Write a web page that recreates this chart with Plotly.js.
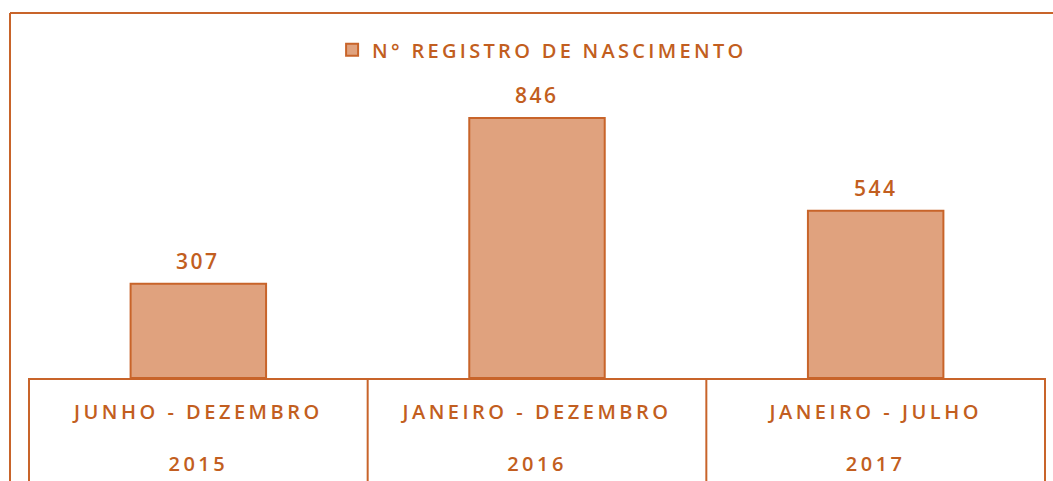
<!DOCTYPE html>
<html>
<head>
<meta charset="utf-8">
<script src="https://cdn.plot.ly/plotly-3.0.1.min.js"></script>
<style>
html,body{margin:0;padding:0;background:#fff;}
#chart{width:1053px;height:481px;}
.xtick text{letter-spacing:3.5px;}
.legendtext{letter-spacing:3.3px;}
.annotation-text{letter-spacing:2.5px;}
</style>
</head>
<body>
<div id="chart"></div>
<script>
const periods = ["JUNHO - DEZEMBRO", "JANEIRO - DEZEMBRO", "JANEIRO - JULHO"];
const years = ["2015", "2016", "2017"];
const registros = [307, 846, 544];
const seriesName = "N° REGISTRO DE NASCIMENTO";

const lineColor = "#C8642A";
const textColor = "#C25E20";
const fontFam = "Open Sans";
const categories = periods.map((p, i) => p + "|" + years[i]);
const tickLabels = periods.map((p, i) => p + "<br><br>" + years[i]);

const trace = {
  type: "bar",
  x: categories,
  y: registros,
  name: seriesName,
  width: 0.4,
  marker: {color: "#E0A27E", line: {color: lineColor, width: 2}},
  hoverinfo: "skip"
};

const annotations = categories.map((c, i) => ({
  x: c, y: registros[i], xref: "x", yref: "y",
  text: String(registros[i]), showarrow: false,
  yanchor: "middle", yshift: 23,
  font: {family: fontFam, size: 21, weight: 600, color: textColor}
}));

const shapes = [];
[-0.5, 0.5, 1.5, 2.5].forEach(b => shapes.push({
  type: "line", xref: "x", yref: "paper", x0: b, x1: b, y0: 0, y1: -0.32,
  line: {color: lineColor, width: 2}
}));
// outer chart border
shapes.push({type: "line", xref: "paper", yref: "paper", x0: -18/1018, x1: 1.05, y0: 1, y1: 1, line: {color: lineColor, width: 2}});
shapes.push({type: "line", xref: "paper", yref: "paper", x0: -18/1018, x1: -18/1018, y0: 1, y1: -0.32, line: {color: lineColor, width: 2}});

const layout = {
  width: 1053, height: 481,
  margin: {l: 28, r: 7, t: 13, b: 103},
  paper_bgcolor: "#fff", plot_bgcolor: "#fff",
  showlegend: true,
  legend: {orientation: "h", x: 0.505, xanchor: "center", y: 0.899, yanchor: "middle",
    font: {family: fontFam, size: 20, weight: 600, color: textColor}, itemclick: false},
  xaxis: {
    type: "category", tickvals: categories, ticktext: tickLabels,
    showline: true, linecolor: lineColor, linewidth: 2,
    ticks: "", showgrid: false, zeroline: false,
    ticklabelstandoff: 15,
    tickfont: {family: fontFam, size: 20, weight: 600, color: textColor}
  },
  yaxis: {range: [0, 1188], visible: false, showgrid: false, zeroline: false},
  annotations: annotations,
  shapes: shapes
};

Plotly.newPlot("chart", [trace], layout, {displayModeBar: false, staticPlot: true});
</script>
</body>
</html>
